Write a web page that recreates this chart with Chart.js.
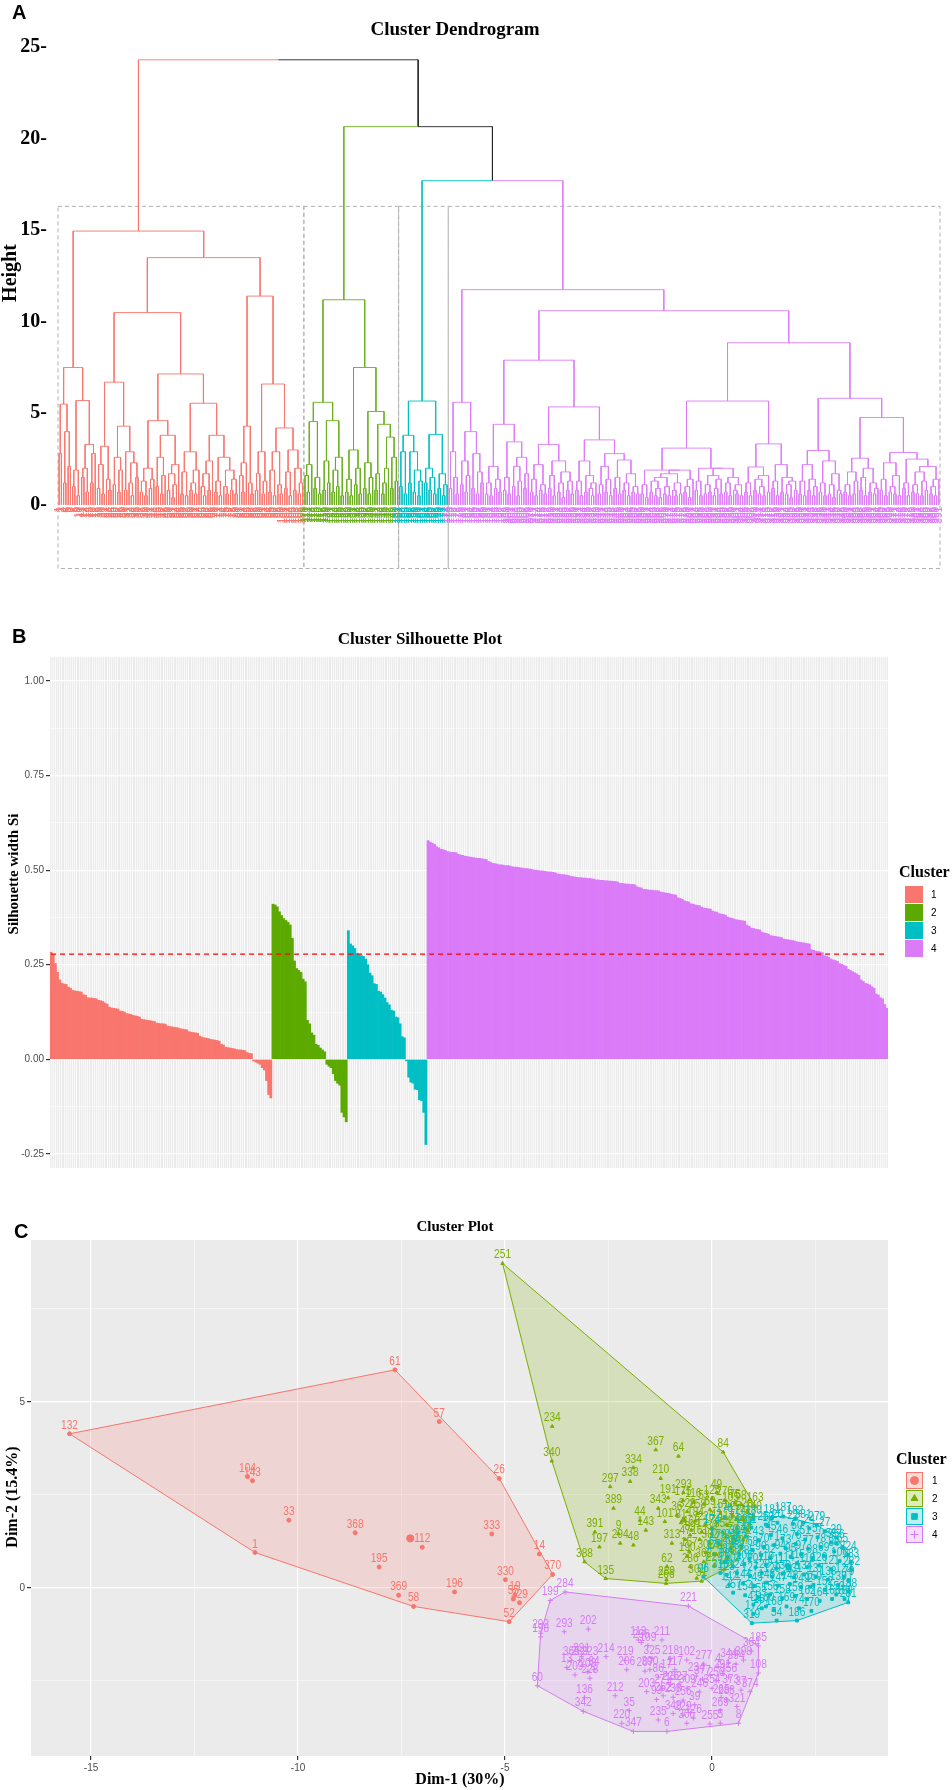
<!DOCTYPE html>
<html>
<head>
<meta charset="utf-8">
<script src="https://cdn.jsdelivr.net/npm/chart.js@4.4.1/dist/chart.umd.min.js"></script>
<style>
  html, body { margin: 0; padding: 0; background: #fff; }
  #page { position: relative; width: 952px; height: 1790px; overflow: hidden; }
  canvas { position: absolute; left: 0; }
</style>
</head>
<body>
<div id="page">
  <canvas id="dendro" width="952" height="592" style="top:0"></canvas>
  <canvas id="silh" width="952" height="584" style="top:592px"></canvas>
  <canvas id="clus" width="952" height="614" style="top:1176px"></canvas>
</div>
<script>
// ---------- A: dendrogram ----------
// merge heights between neighbouring leaves, read off the tree (left to right)
const redGaps = [2.8, 5.5, 1.2, 4.0, 2.1, 7.5, 1.0, 1.9, 0.5, 5.7, 1.5, 2.0, 0.7, 3.3, 1.2, 2.8,
  14.95,
  0.9, 2.2, 0.6, 3.2, 1.4, 0.8, 6.7, 1.1, 2.6, 0.7, 1.9, 4.3, 0.8, 2.9, 1.2, 0.5, 2.3, 1.5,
  10.5,
  0.7, 1.3, 0.5, 2.0, 0.9, 1.4, 4.6, 1.0, 2.6, 0.6, 1.6, 3.8, 0.8, 1.7, 0.4, 1.1, 2.2,
  7.15,
  0.6, 1.8, 0.5, 2.9, 0.8, 1.2, 0.6, 1.9, 5.55, 1.0, 0.5, 1.7, 0.8, 2.4, 3.8, 0.7, 1.3, 0.5, 2.6, 1.0, 0.6, 1.9, 0.8, 1.4, 0.6,
  13.5,
  1.6, 0.7, 2.3, 4.3, 1.2, 0.6, 11.4,
  0.8, 1.7, 2.9, 0.6, 1.3, 6.6, 0.7, 1.9, 0.5, 2.9, 1.1, 0.6, 4.2, 0.9, 1.8, 0.5, 3.0, 0.8, 2.0, 0.6, 1.2];
const greenGaps = [1.6, 0.7, 2.2, 4.55, 0.9, 1.5, 0.6, 5.6, 0.8, 2.4, 1.2, 4.6, 0.7, 1.9, 1.0, 2.6, 0.5,
  11.2,
  0.7, 1.4, 0.5, 3.0, 1.1, 2.0, 0.6, 7.5, 0.9, 2.3, 0.6, 1.5, 5.1, 0.8, 1.7, 4.4, 0.6, 1.2, 2.0, 3.7, 0.9, 2.6, 1.3];
const cyanGaps = [1.0, 2.9, 0.6, 3.8, 1.2, 2.9, 0.7, 1.9, 0.5, 1.3, 5.67, 1.2, 2.0, 0.8, 1.5, 0.6, 3.85, 0.9, 1.7, 0.5, 1.1];
const purpleGaps = [0.9, 2.9, 1.5, 0.6, 5.6, 1.1, 2.4, 0.7, 1.6, 4.0, 0.9, 2.8, 0.6, 1.8, 1.2,
  11.75,
  0.6, 1.2, 0.5, 2.1, 0.9, 1.4, 0.7, 4.4, 0.8, 1.5, 0.6, 3.44, 1.0, 2.1, 0.5, 1.3, 2.6, 0.9, 1.7,
  7.9,
  0.7, 1.4, 0.5, 2.2, 0.8, 1.1, 0.6, 3.3, 0.9, 1.6, 0.5, 2.4, 0.7, 1.2, 0.4, 1.8, 0.8, 1.3, 0.6, 5.35,
  0.8, 1.3, 0.5, 2.4, 0.7, 1.6, 0.9, 0.5, 1.2, 3.55, 0.6, 1.1, 2.1, 0.7, 1.4, 0.5, 2.8, 0.9, 1.5, 0.6, 2.45, 0.8, 1.2, 0.5, 1.7, 0.7, 1.0, 0.6,
  10.6,
  0.6, 1.1, 0.4, 1.9, 0.7, 1.3, 0.5, 0.9, 0.4, 1.5, 0.6, 1.0, 0.5, 1.7, 0.8, 0.5, 1.2, 0.6, 1.9, 0.7, 1.0, 0.4, 1.4, 3.1,
  0.8, 1.3, 0.5, 2.0, 0.6, 1.1, 0.7, 1.6, 0.5, 0.9, 1.4, 0.6, 2.0, 0.7, 1.2, 0.5, 1.5, 0.8, 0.6, 1.1, 0.5, 5.67,
  0.7, 1.2, 0.5, 2.07, 0.8, 1.4, 0.6, 1.0, 0.5, 1.6, 0.7, 3.33, 0.9, 1.3, 0.5, 2.2, 0.7, 1.5, 0.6, 1.1, 0.4, 1.3, 0.8,
  8.85,
  0.6, 1.3, 0.5, 2.2, 0.8, 1.4, 0.5, 1.0, 2.97, 0.7, 1.2, 0.5, 2.4, 0.6, 1.1, 0.4, 1.7, 0.8, 0.6, 5.82,
  0.7, 1.1, 0.5, 1.8, 0.6, 1.3, 2.55, 0.8, 1.5, 0.5, 2.0, 0.7, 1.2, 0.6, 0.9, 4.77,
  0.8, 1.4, 0.5, 2.3, 0.7, 1.0, 0.6, 1.6, 0.5, 2.86, 0.9, 1.2, 0.5, 2.5, 0.7, 1.1, 0.6, 1.8, 0.5, 1.3, 0.8, 2.1, 0.6, 1.0, 0.5, 1.4];
const blockMergeHeights = [24.3, 20.65, 17.7];  // red|green, green|cyan, cyan|purple
const rectCutHeight = 16.3;
const heightTicks = [0, 5, 10, 15, 20, 25];

// ---------- B: silhouette widths ----------
const silRed = [0.283, 0.276, 0.253, 0.230, 0.210, 0.201, 0.199, 0.198, 0.191, 0.188, 0.182, 0.181, 0.180, 0.179, 0.178,
  0.171, 0.169, 0.163, 0.162, 0.162, 0.161, 0.160, 0.156, 0.155, 0.153, 0.149, 0.146, 0.138, 0.136, 0.135, 0.134, 0.133,
  0.128, 0.127, 0.125, 0.121, 0.120, 0.119, 0.116, 0.115, 0.114, 0.112, 0.106, 0.105, 0.104, 0.103, 0.102, 0.101, 0.100,
  0.096, 0.095, 0.094, 0.094, 0.093, 0.088, 0.087, 0.086, 0.085, 0.084, 0.083, 0.081, 0.080, 0.079, 0.078, 0.073, 0.072,
  0.071, 0.070, 0.069, 0.061, 0.059, 0.057, 0.056, 0.055, 0.053, 0.052, 0.051, 0.050, 0.048, 0.040, 0.038, 0.032, 0.031,
  0.030, 0.029, 0.028, 0.026, 0.025, 0.025, 0.024, 0.023, 0.018, 0.016, 0.015, -0.004, -0.007, -0.010, -0.013, -0.022,
  -0.028, -0.056, -0.093, -0.102];
const silGreen = [0.41, 0.408, 0.403, 0.39, 0.38, 0.372, 0.367, 0.362, 0.355, 0.32, 0.26, 0.24, 0.235, 0.23, 0.212, 0.205,
  0.103, 0.094, 0.07, 0.064, 0.04, 0.037, 0.03, 0.025, 0.02, -0.013, -0.018, -0.022, -0.038, -0.056, -0.063, -0.068,
  -0.14, -0.152, -0.165];
const silCyan = [0.34, 0.305, 0.3, 0.293, 0.28, 0.276, 0.274, 0.272, 0.265, 0.25, 0.228, 0.221, 0.2, 0.198, 0.18, 0.178,
  0.171, 0.162, 0.15, 0.144, 0.13, 0.128, 0.112, 0.11, 0.094, 0.06, 0.057, -0.004, -0.047, -0.06, -0.063, -0.079, -0.08,
  -0.107, -0.109, -0.14, -0.225];
const silPurple = [0.578, 0.574, 0.571, 0.568, 0.562, 0.559, 0.555, 0.554, 0.552, 0.549, 0.548, 0.547, 0.547, 0.546, 0.542,
  0.540, 0.539, 0.537, 0.536, 0.535, 0.534, 0.533, 0.532, 0.531, 0.531, 0.530, 0.529, 0.528, 0.523, 0.521, 0.518, 0.517,
  0.516, 0.514, 0.514, 0.513, 0.512, 0.512, 0.511, 0.509, 0.508, 0.508, 0.507, 0.506, 0.505, 0.504, 0.504, 0.503, 0.502,
  0.500, 0.500, 0.499, 0.498, 0.498, 0.497, 0.496, 0.495, 0.495, 0.494, 0.493, 0.490, 0.489, 0.488, 0.488, 0.487, 0.486,
  0.484, 0.483, 0.482, 0.481, 0.480, 0.480, 0.479, 0.479, 0.478, 0.478, 0.477, 0.476, 0.474, 0.474, 0.473, 0.473, 0.472,
  0.472, 0.471, 0.471, 0.470, 0.470, 0.469, 0.465, 0.465, 0.464, 0.463, 0.463, 0.462, 0.462, 0.461, 0.456, 0.454, 0.453,
  0.449, 0.449, 0.448, 0.447, 0.447, 0.446, 0.446, 0.445, 0.442, 0.441, 0.440, 0.439, 0.438, 0.436, 0.435, 0.434, 0.427,
  0.425, 0.423, 0.419, 0.417, 0.416, 0.411, 0.410, 0.408, 0.407, 0.406, 0.402, 0.400, 0.399, 0.398, 0.397, 0.392, 0.390,
  0.389, 0.385, 0.384, 0.383, 0.381, 0.376, 0.374, 0.373, 0.371, 0.369, 0.368, 0.367, 0.366, 0.365, 0.355, 0.352, 0.347,
  0.346, 0.344, 0.343, 0.342, 0.336, 0.334, 0.333, 0.331, 0.327, 0.326, 0.325, 0.324, 0.323, 0.322, 0.318, 0.317, 0.316,
  0.315, 0.314, 0.313, 0.311, 0.310, 0.309, 0.308, 0.307, 0.306, 0.305, 0.290, 0.288, 0.286, 0.285, 0.284, 0.282, 0.274,
  0.272, 0.270, 0.265, 0.263, 0.261, 0.259, 0.253, 0.251, 0.248, 0.246, 0.238, 0.235, 0.232, 0.229, 0.226, 0.222, 0.210,
  0.206, 0.201, 0.199, 0.197, 0.192, 0.188, 0.173, 0.170, 0.163, 0.160, 0.145, 0.135];
const avgSilhouette = 0.278;
const silTicks = [-0.25, -0.125, 0, 0.125, 0.25, 0.375, 0.5, 0.625, 0.75, 0.875, 1.0];
const clusterNames = ['1', '2', '3', '4'];

// ---------- C: cluster plot, [Dim-1, Dim-2, observation id] ----------
const c1Pts = [[-15.52, 4.14, 132], [-7.66, 5.86, 61], [-6.59, 4.47, 57], [-11.22, 2.99, 104], [-11.10, 2.88, 143],
  [-10.22, 1.82, 33], [-8.62, 1.48, 368], [-7.0, 1.09, 112], [-11.04, 0.95, 1], [-8.04, 0.56, 195], [-7.57, -0.2, 369],
  [-7.21, -0.5, 58], [-6.22, -0.11, 196], [-5.14, 2.94, 26], [-5.32, 1.45, 333], [-4.17, 0.91, 14], [-3.85, 0.36, 370],
  [-4.99, 0.22, 330], [-4.76, -0.2, 19], [-4.65, -0.4, 329], [-4.8, -0.3, 55], [-4.9, -0.91, 52]];
const c2Pts = [[-5.06, 8.72, 251], [-3.86, 4.34, 234], [-3.87, 3.41, 340], [0.27, 3.65, 84], [-1.36, 3.71, 367],
  [-0.81, 3.54, 64], [-1.9, 3.23, 334], [-1.98, 2.86, 338], [-2.46, 2.72, 297], [-1.24, 2.94, 210], [-2.38, 2.14, 389],
  [-2.83, 1.5, 391], [-2.72, 1.1, 197], [-2.26, 1.45, 9], [-2.22, 1.2, 294], [-1.9, 1.15, 48], [-3.08, 0.7, 388],
  [-2.57, 0.25, 135], [-0.69, 2.56, 293], [-1.06, 2.42, 191], [0.11, 2.56, 49], [1.04, 2.19, 163], [-1.3, 2.14, 343],
  [-1.74, 1.82, 44], [-1.6, 1.55, 143], [-1.14, 1.78, 101], [-0.97, 1.2, 313], [-0.53, 1.42, 89], [-0.55, 0.98, 157],
  [-1.09, 0.57, 62], [-0.53, 0.57, 286], [-1.11, 0.12, 266], [-1.1, 0.22, 289], [-0.37, 0.26, 301], [0.55, 2.28, 75],
  [-0.25, 0.18, 31], [1.0, 1.95, 140], [-0.45, 2.3, 116], [-0.2, 2.25, 53], [0.3, 2.35, 276], [0.45, 2.2, 105],
  [0.7, 2.25, 58], [0.85, 2.05, 28], [-0.6, 2.05, 328], [-0.35, 2.0, 258], [-0.05, 2.1, 69], [0.2, 2.0, 151],
  [0.5, 1.95, 225], [0.75, 1.85, 141], [-0.75, 1.75, 81], [-0.4, 1.8, 184], [-0.15, 1.7, 226], [0.1, 1.75, 42],
  [0.35, 1.7, 117], [0.6, 1.6, 244], [0.85, 1.55, 91], [-0.5, 1.55, 165], [-0.25, 1.5, 12], [0.0, 1.45, 30],
  [0.25, 1.5, 352], [0.5, 1.35, 72], [0.75, 1.3, 171], [-0.3, 1.3, 161], [-0.05, 1.2, 382], [0.2, 1.15, 23],
  [0.45, 1.1, 259], [0.7, 1.05, 207], [-0.15, 0.95, 302], [0.1, 0.9, 141], [0.35, 0.8, 118], [0.6, 0.75, 87],
  [-0.2, 0.7, 362], [0.05, 0.6, 229], [0.3, 0.5, 15], [-0.7, 2.35, 175], [0.0, 2.4, 125], [-0.85, 1.95, 36],
  [-0.65, 1.3, 47], [-0.6, 0.85, 190]];
const c3Pts = [[-0.21, 0.30, 96], [0.51, -0.13, 257], [0.96, -0.95, 319], [1.56, -0.88, 54], [2.05, -0.88, 186],
  [3.29, -0.39, 281], [3.3, 0.2, 79], [3.37, 0.49, 232], [3.29, 0.89, 324], [2.53, 1.69, 279], [1.72, 1.92, 187],
  [2.2, 1.75, 381], [1.3, 1.7, 253], [0.8, 1.6, 237], [0.5, 1.2, 242], [0.3, 0.7, 88], [0.2, 0.4, 316], [3.0, 1.2, 356],
  [2.37, 0.03, 2], [2.1, -0.55, 74], [1.0, -0.45, 41], [1.3, -0.5, 160],
  [0.0, 1.6, 174], [0.3, 1.9, 176], [0.6, 1.85, 177], [0.15, 1.2, 178], [0.05, 0.9, 179], [1.0, 1.85, 180],
  [1.45, 1.88, 181], [2.0, 1.85, 182], [3.35, 0.7, 183], [3.3, -0.1, 188], [3.2, -0.3, 189],
  [0.62, 1.48, 7], [0.95, 1.62, 11], [1.35, 1.66, 18], [1.58, 1.75, 20], [1.95, 1.72, 22], [2.35, 1.6, 24], [2.72, 1.52, 27], [3.0, 1.35, 29],
  [0.55, 1.3, 38], [0.82, 1.38, 40], [1.12, 1.28, 43], [1.42, 1.42, 45], [1.7, 1.33, 46], [2.05, 1.45, 50], [2.25, 1.3, 51], [2.55, 1.36, 57], [2.88, 1.22, 59], [3.15, 1.1, 65],
  [0.45, 1.05, 66], [0.7, 1.12, 67], [0.98, 1.02, 68], [1.25, 1.1, 70], [1.5, 1.15, 71], [1.78, 1.06, 73], [2.02, 1.18, 76], [2.32, 1.05, 77], [2.62, 1.1, 78], [2.95, 0.98, 80],
  [0.38, 0.82, 82], [0.66, 0.9, 83], [0.9, 0.78, 85], [1.18, 0.88, 90], [1.4, 0.8, 92], [1.65, 0.92, 94], [1.9, 0.84, 95], [2.15, 0.9, 97], [2.42, 0.8, 98], [2.7, 0.86, 99], [3.08, 0.72, 100],
  [0.5, 0.58, 103], [0.78, 0.64, 106], [1.05, 0.55, 107], [1.3, 0.62, 110], [1.55, 0.52, 111], [1.8, 0.6, 114], [2.05, 0.66, 115], [2.3, 0.55, 119], [2.58, 0.6, 120], [2.88, 0.5, 121], [3.18, 0.3, 122],
  [0.35, 0.35, 123], [0.6, 0.4, 124], [0.92, 0.32, 127], [1.2, 0.4, 128], [1.45, 0.3, 129], [1.7, 0.38, 130], [1.98, 0.28, 131], [2.22, 0.36, 134], [2.5, 0.3, 137], [2.8, 0.22, 138], [3.05, 0.08, 139],
  [0.42, 0.08, 142], [0.75, 0.12, 144], [1.02, 0.05, 145], [1.32, 0.14, 146], [1.6, 0.06, 147], [1.88, 0.1, 148], [2.15, 0.02, 149], [2.45, 0.08, 150], [2.72, -0.05, 152], [3.0, -0.18, 153],
  [0.8, -0.2, 154], [1.12, -0.25, 155], [1.4, -0.18, 156], [1.7, -0.28, 158], [2.0, -0.22, 159], [2.3, -0.3, 162], [2.6, -0.35, 164], [2.9, -0.3, 166],
  [1.2, -0.55, 167], [1.5, -0.6, 168], [1.8, -0.5, 169], [2.4, -0.62, 170], [1.0, -0.7, 172]];
const c4Pts = [[-4.22, -2.63, 60], [-4.14, -1.22, 292], [-4.14, -1.32, 198], [-3.91, -0.34, 199], [-3.55, -0.11, 284],
  [-3.57, -1.18, 293], [-2.99, -1.11, 202], [-0.57, -0.49, 221], [1.12, -1.56, 185], [0.95, -1.70, 364], [1.12, -2.29, 108],
  [0.76, -1.94, 398], [0.58, -2.05, 394], [0.92, -2.79, 374], [0.7, -2.75, 37], [0.6, -3.19, 321], [0.64, -3.64, 8],
  [0.2, -3.64, 5], [-0.05, -3.66, 255], [-0.61, -3.64, 306], [-1.09, -3.86, 6], [-1.3, -3.55, 235], [-1.9, -3.86, 347],
  [-2.18, -3.64, 220], [-2.0, -3.3, 35], [-3.11, -3.32, 342], [-3.08, -2.95, 136], [-2.34, -2.9, 212], [-3.15, -1.85, 331],
  [-2.56, -1.85, 214], [-2.1, -1.95, 219], [-1.71, -1.47, 296], [-1.55, -1.55, 109], [-1.78, -1.4, 113], [-1.21, -1.4, 211],
  [-0.61, -1.94, 102], [0.15, -2.12, 4], [-3.31, -2.34, 209], [-3.51, -2.14, 13], [-3.4, -1.95, 365], [-3.2, -1.95, 289],
  [-2.95, -1.95, 223], [-2.85, -2.2, 34], [-3.0, -2.25, 208], [-2.95, -2.43, 228], [-2.06, -2.2, 206], [-1.62, -2.24, 207],
  [-1.58, -2.79, 203], [-1.34, -3.0, 93], [-1.18, -2.9, 262], [-0.94, -2.94, 238], [-0.7, -3.02, 256], [-0.42, -3.14, 39],
  [-0.94, -3.38, 349], [-0.7, -3.42, 229], [-0.38, -2.37, 234], [-0.23, -2.45, 377], [0.1, -2.5, 250], [0.25, -2.3, 291],
  [0.4, -2.4, 356], [0.22, -2.95, 265], [-1.5, -2.2, 390], [-1.3, -2.4, 86], [-1.1, -2.3, 17], [-0.9, -2.2, 117],
  [-1.0, -2.6, 226], [-0.8, -2.6, 327], [-1.2, -2.7, 271], [-0.6, -2.7, 309], [-0.3, -2.8, 246], [0.0, -2.7, 354],
  [0.45, -2.7, 373], [0.35, -3.0, 283], [-1.45, -1.9, 325], [-1.0, -1.9, 218], [-0.2, -2.05, 277], [0.4, -2.0, 344],
  [-0.45, -3.5, 126], [0.2, -3.3, 269]];
const clusterCenters = [[-7.29, 1.33], [-0.69, 1.82], [1.85, 0.55], [-1.0, -2.45]];
const dimXTicks = [-15, -12.5, -10, -7.5, -5, -2.5, 0, 2.5];
const dimYTicks = [-2.5, 0, 2.5, 5, 7.5];

// ---------- styling ----------
const SERIF = '"Liberation Serif", "Times New Roman", serif';
const SANS = '"Liberation Sans", Arial, sans-serif';
const DEND_COLORS = ['#F8766D', '#6AAF1F', '#00BFC4', '#DE7CF7', '#222222'];
const SIL_COLORS = ['#F8766D', '#5CAA00', '#00BFC4', '#DB7BF8'];
const CL_COLORS = ['#F8766D', '#7CAE00', '#00BFC4', '#D67BF5'];
const CL_SHAPES = ['circle', 'triangle', 'rect', 'cross'];
const PANEL_BG = '#EBEBEB';

function withAlpha(hex, a) {
  const n = parseInt(hex.slice(1), 16);
  return `rgba(${(n >> 16) & 255},${(n >> 8) & 255},${n & 255},${a})`;
}

function drawText(ctx, txt, x, y, font, color, align, rot) {
  ctx.save();
  ctx.font = font;
  ctx.fillStyle = color || '#000';
  ctx.textAlign = align || 'center';
  ctx.textBaseline = 'middle';
  ctx.translate(x, y);
  if (rot) ctx.rotate(rot);
  ctx.fillText(txt, 0, 0);
  ctx.restore();
}

// ---------- build dendrogram from neighbour merge heights ----------
const clusterGapLists = [redGaps, greenGaps, cyanGaps, purpleGaps];
const allGaps = [];
const leafCluster = [];
clusterGapLists.forEach((g, k) => {
  if (k > 0) allGaps.push(blockMergeHeights[k - 1]);
  allGaps.push(...g);
  for (let i = 0; i <= g.length; i++) leafCluster.push(k);
});
const nLeaves = leafCluster.length;

function buildNode(lo, hi) {
  if (lo === hi) return { x: lo, h: 0, lo, hi };
  let k = lo;
  for (let i = lo + 1; i < hi; i++) if (allGaps[i] > allGaps[k]) k = i;
  const left = buildNode(lo, k);
  const right = buildNode(k + 1, hi);
  return { x: (left.x + right.x) / 2, h: allGaps[k], lo, hi, left, right };
}
const dendroRoot = buildNode(0, nLeaves - 1);

const dendroSegs = [[], [], [], [], []];
function addEdges(node) {
  if (!node.left) return;
  [node.left, node.right].forEach(ch => {
    const c = leafCluster[ch.lo] === leafCluster[ch.hi] ? leafCluster[ch.lo] : 4;
    dendroSegs[c].push({ x: node.x, y: node.h }, { x: ch.x, y: node.h }, { x: ch.x, y: ch.h }, { x: ch.x, y: null });
    addEdges(ch);
  });
}
addEdges(dendroRoot);

const dendroExtras = {
  id: 'dendroExtras',
  beforeDatasetsDraw(chart) {
    const { ctx, chartArea, scales: { x, y } } = chart;
    ctx.save();
    ctx.strokeStyle = '#B0B0B0';
    ctx.lineWidth = 1;
    ctx.setLineDash([4, 3]);
    const top = y.getPixelForValue(rectCutHeight);
    let start = 0;
    clusterGapLists.forEach(g => {
      const n = g.length + 1;
      const x0 = x.getPixelForValue(start - 0.5);
      const x1 = x.getPixelForValue(start + n - 0.5);
      ctx.strokeRect(x0, top, x1 - x0, chartArea.bottom - 0.5 - top);
      start += n;
    });
    ctx.restore();
  },
  afterDatasetsDraw(chart) {
    // leaf labels (illegible in the source, shown as leaf positions)
    const { ctx, scales: { x, y } } = chart;
    const y0 = y.getPixelForValue(0) + 2;
    for (let i = 0; i < nLeaves; i++) {
      drawText(ctx, String(i + 1), x.getPixelForValue(i), y0, `10px ${SANS}`,
        DEND_COLORS[leafCluster[i]], 'right', -Math.PI / 2);
    }
  },
  afterDraw(chart) {
    const ctx = chart.ctx;
    drawText(ctx, 'A', 12, 13, `bold 20px ${SANS}`, '#000', 'left');
    drawText(ctx, 'Cluster Dendrogram', 455, 30, `bold 19px ${SERIF}`, '#000');
    drawText(ctx, 'Height', 11, 273, `bold 20px ${SERIF}`, '#000', 'center', -Math.PI / 2);
  }
};

new Chart(document.getElementById('dendro'), {
  type: 'scatter',
  data: {
    datasets: dendroSegs.map((seg, c) => ({
      data: seg, showLine: true, spanGaps: false, borderColor: DEND_COLORS[c],
      borderWidth: 0.9, pointRadius: 0, tension: 0
    }))
  },
  options: {
    responsive: false, animation: false, devicePixelRatio: 1,
    layout: { padding: { top: 36, right: 12, bottom: 7, left: 0 } },
    plugins: { legend: { display: false }, tooltip: { enabled: false } },
    scales: {
      x: { type: 'linear', min: -0.5, max: nLeaves - 0.5, display: false },
      y: {
        type: 'linear', min: -3.5, max: 25.6,
        afterFit: s => { s.width = 58; },
        afterBuildTicks: s => { s.ticks = heightTicks.map(v => ({ value: v })); },
        grid: { display: false, drawTicks: false, tickLength: 0 },
        border: { display: false },
        ticks: { padding: 11, color: '#000', font: { family: SERIF, size: 20, weight: 'bold' }, callback: v => v + '-' }
      }
    }
  },
  plugins: [dendroExtras]
});

// ---------- B: silhouette chart ----------
const silGroups = [silRed, silGreen, silCyan, silPurple];
const silValues = [].concat(...silGroups);
const silColors = [].concat(...silGroups.map((g, k) => g.map(() => SIL_COLORS[k])));
const silLabels = silValues.map((_, i) => String(i + 1));
const isQuarter = v => Math.abs(v / 0.25 - Math.round(v / 0.25)) < 1e-6;

const panelBg = {
  id: 'panelBg',
  beforeDraw(chart) {
    const { ctx, chartArea: a } = chart;
    ctx.save();
    ctx.fillStyle = PANEL_BG;
    ctx.fillRect(a.left, a.top, a.right - a.left, a.bottom - a.top);
    ctx.restore();
  }
};

const silExtras = {
  id: 'silExtras',
  afterDraw(chart) {
    const ctx = chart.ctx;
    drawText(ctx, 'B', 12, 45, `bold 20px ${SANS}`, '#000', 'left');
    drawText(ctx, 'Cluster Silhouette Plot', 420, 48, `bold 17px ${SERIF}`, '#000');
    drawText(ctx, 'Silhouette width Si', 14, 282, `bold 15px ${SERIF}`, '#000', 'center', -Math.PI / 2);
    drawText(ctx, 'Cluster', 899, 281, `bold 16px ${SERIF}`, '#000', 'left');
    clusterNames.forEach((name, k) => {
      const top = 294 + k * 18;
      ctx.fillStyle = SIL_COLORS[k];
      ctx.fillRect(905, top, 18, 17);
      drawText(ctx, name, 931, top + 9, `10px ${SANS}`, '#000', 'left');
    });
  }
};

new Chart(document.getElementById('silh'), {
  type: 'bar',
  data: {
    labels: silLabels,
    datasets: [
      {
        type: 'line', data: [{ x: silLabels[0], y: avgSilhouette }, { x: silLabels[silLabels.length - 1], y: avgSilhouette }],
        borderColor: '#FF0000', borderWidth: 1.3, borderDash: [5, 4], pointRadius: 0, order: 0
      },
      {
        type: 'bar', data: silValues, backgroundColor: silColors, borderWidth: 0,
        barPercentage: 1, categoryPercentage: 1, order: 1
      }
    ]
  },
  options: {
    responsive: false, animation: false, devicePixelRatio: 1,
    layout: { padding: { top: 65, right: 64, bottom: 8, left: 0 } },
    plugins: { legend: { display: false }, tooltip: { enabled: false } },
    scales: {
      x: {
        type: 'category', offset: true,
        afterFit: s => { s.height = 0; },
        grid: { offset: false, color: '#FFFFFF', lineWidth: 0.7, drawTicks: false },
        border: { display: false },
        ticks: { display: false, autoSkip: false }
      },
      y: {
        min: -0.287, max: 1.063,
        afterFit: s => { s.width = 50; },
        afterBuildTicks: s => { s.ticks = silTicks.map(v => ({ value: v })); },
        grid: {
          color: '#FFFFFF', tickLength: 4,
          lineWidth: c => (isQuarter(c.tick.value) ? 1.2 : 0.5),
          tickColor: c => (isQuarter(c.tick.value) ? '#333333' : 'rgba(0,0,0,0)')
        },
        border: { display: false },
        ticks: {
          padding: 2, color: '#4D4D4D', font: { family: SANS, size: 10 },
          callback: v => (isQuarter(v) ? v.toFixed(2) : '')
        }
      }
    }
  },
  plugins: [panelBg, silExtras]
});

// ---------- C: cluster plot ----------
function convexHull(pts) {
  const p = pts.map(q => [q[0], q[1]]).sort((a, b) => a[0] - b[0] || a[1] - b[1]);
  const cross = (o, a, b) => (a[0] - o[0]) * (b[1] - o[1]) - (a[1] - o[1]) * (b[0] - o[0]);
  const lower = [], upper = [];
  for (const q of p) {
    while (lower.length >= 2 && cross(lower[lower.length - 2], lower[lower.length - 1], q) <= 0) lower.pop();
    lower.push(q);
  }
  for (const q of p.slice().reverse()) {
    while (upper.length >= 2 && cross(upper[upper.length - 2], upper[upper.length - 1], q) <= 0) upper.pop();
    upper.push(q);
  }
  return lower.slice(0, -1).concat(upper.slice(0, -1));
}

const clusterSets = [c1Pts, c2Pts, c3Pts, c4Pts];
const hullSets = clusterSets.map((pts, k) => {
  const h = convexHull(pts);
  h.push(h[0]);
  return {
    type: 'line', data: h.map(q => ({ x: q[0], y: q[1] })), borderColor: CL_COLORS[k], borderWidth: 1,
    backgroundColor: withAlpha(CL_COLORS[k], 0.2), fill: 'shape', pointRadius: 0, tension: 0, order: 5
  };
});
const pointSets = clusterSets.map((pts, k) => ({
  type: 'scatter', data: pts.map(q => ({ x: q[0], y: q[1] })), ids: pts.map(q => q[2]),
  pointStyle: CL_SHAPES[k], pointRadius: k === 3 ? 2.6 : 2, borderWidth: 1,
  backgroundColor: CL_COLORS[k], borderColor: CL_COLORS[k], order: 2
}));
const centerSet = {
  type: 'scatter', data: clusterCenters.map(q => ({ x: q[0], y: q[1] })),
  pointStyle: CL_SHAPES, pointRadius: 3.6, borderWidth: 1,
  backgroundColor: CL_COLORS, borderColor: CL_COLORS, order: 1
};

const clusExtras = {
  id: 'clusExtras',
  afterDatasetsDraw(chart) {
    // observation ids above the points, in the narrow face used by the source
    const ctx = chart.ctx;
    ctx.save();
    ctx.font = `13px ${SANS}`;
    ctx.textAlign = 'center';
    ctx.textBaseline = 'alphabetic';
    chart.data.datasets.forEach((ds, di) => {
      if (!ds.ids) return;
      const meta = chart.getDatasetMeta(di);
      ctx.fillStyle = ds.borderColor;
      meta.data.forEach((el, j) => {
        ctx.save();
        ctx.translate(el.x, el.y - 5);
        ctx.scale(0.78, 1);
        ctx.fillText(String(ds.ids[j]), 0, 0);
        ctx.restore();
      });
    });
    ctx.restore();
  },
  afterDraw(chart) {
    const ctx = chart.ctx;
    drawText(ctx, 'C', 14, 56, `bold 20px ${SANS}`, '#000', 'left');
    drawText(ctx, 'Cluster Plot', 455, 51, `bold 15px ${SERIF}`, '#000');
    drawText(ctx, 'Dim-1 (30%)', 460, 604, `bold 16px ${SERIF}`, '#000');
    drawText(ctx, 'Dim-2 (15.4%)', 13, 321, `bold 16px ${SERIF}`, '#000', 'center', -Math.PI / 2);
    drawText(ctx, 'Cluster', 896, 284, `bold 16px ${SERIF}`, '#000', 'left');
    clusterNames.forEach((name, k) => {
      const top = 296 + k * 18;
      ctx.save();
      ctx.fillStyle = withAlpha(CL_COLORS[k], 0.25);
      ctx.strokeStyle = CL_COLORS[k];
      ctx.lineWidth = 1;
      ctx.fillRect(906, top, 17, 17);
      ctx.strokeRect(906.5, top + 0.5, 16, 16);
      ctx.fillStyle = CL_COLORS[k];
      Chart.helpers.drawPoint(ctx, { pointStyle: CL_SHAPES[k], radius: 4, borderWidth: 1.2, rotation: 0 }, 914.5, top + 8.5);
      ctx.restore();
      drawText(ctx, name, 932, top + 9, `10px ${SANS}`, '#000', 'left');
    });
  }
};

new Chart(document.getElementById('clus'), {
  type: 'scatter',
  data: { datasets: [...hullSets, ...pointSets, centerSet] },
  options: {
    responsive: false, animation: false, devicePixelRatio: 1,
    layout: { padding: { top: 64, right: 64, bottom: 0, left: 0 } },
    plugins: { legend: { display: false }, tooltip: { enabled: false } },
    scales: {
      x: {
        type: 'linear', min: -16.45, max: 4.25,
        afterFit: s => { s.height = 34; },
        afterBuildTicks: s => { s.ticks = dimXTicks.map(v => ({ value: v })); },
        grid: {
          color: '#FFFFFF', tickLength: 4,
          lineWidth: c => (c.tick.value % 5 === 0 ? 1.2 : 0.5),
          tickColor: c => (c.tick.value % 5 === 0 ? '#333333' : 'rgba(0,0,0,0)')
        },
        border: { display: false },
        ticks: { padding: 2, color: '#4D4D4D', font: { family: SANS, size: 10 }, callback: v => (v % 5 === 0 ? String(v) : '') }
      },
      y: {
        type: 'linear', min: -4.52, max: 9.35,
        afterFit: s => { s.width = 31; },
        afterBuildTicks: s => { s.ticks = dimYTicks.map(v => ({ value: v })); },
        grid: {
          color: '#FFFFFF', tickLength: 4,
          lineWidth: c => (c.tick.value % 5 === 0 ? 1.2 : 0.5),
          tickColor: c => (c.tick.value % 5 === 0 ? '#333333' : 'rgba(0,0,0,0)')
        },
        border: { display: false },
        ticks: { padding: 2, color: '#4D4D4D', font: { family: SANS, size: 10 }, callback: v => (v % 5 === 0 ? String(v) : '') }
      }
    }
  },
  plugins: [panelBg, clusExtras]
});
</script>
</body>
</html>
